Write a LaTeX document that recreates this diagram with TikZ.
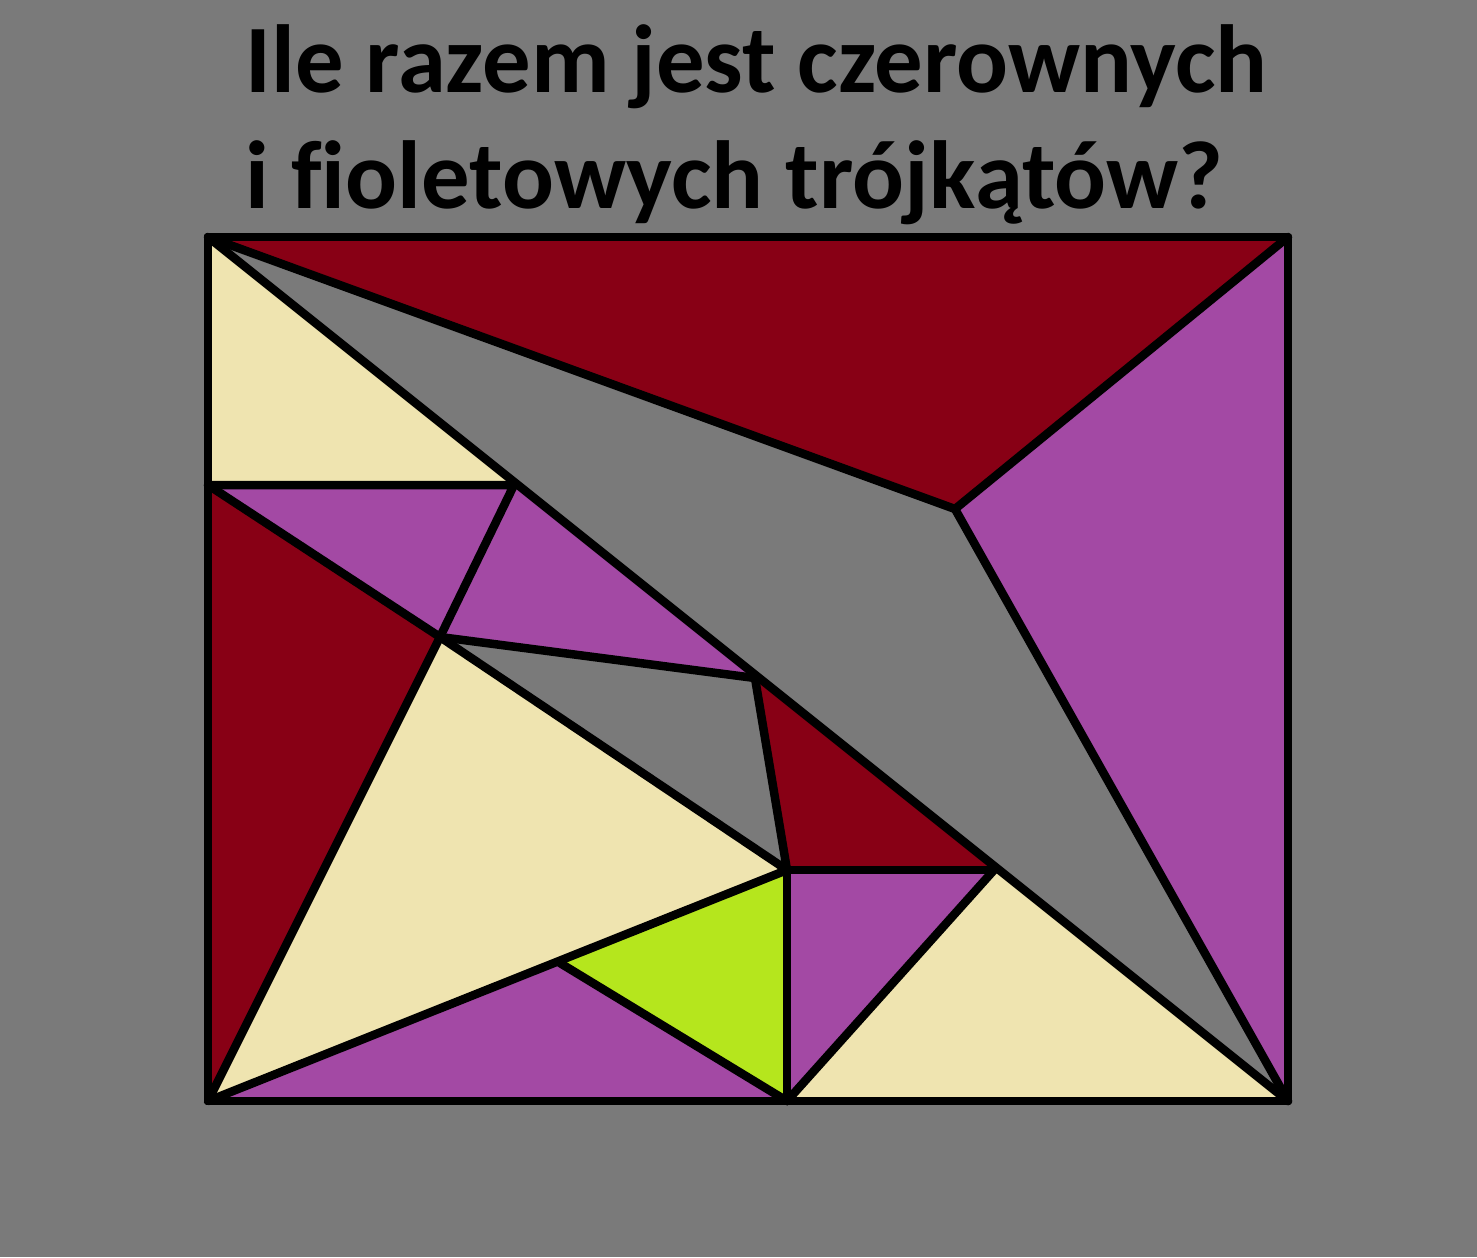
\documentclass[tikz,border=0pt]{standalone}
\usepackage{fontspec}
\setmainfont[Ligatures=NoCommon]{Carlito}
\definecolor{bggray}{HTML}{7A7A7A}
\definecolor{dred}{HTML}{880015}
\definecolor{purp}{HTML}{A349A4}
\definecolor{cream}{HTML}{EFE4B0}
\definecolor{lime}{HTML}{B5E61D}
\begin{document}
\begin{tikzpicture}[x=0.01cm,y=-0.01cm,
  edge/.style={draw=black,line width=0.085cm,line join=round,line cap=round},
  title/.style={anchor=base west,inner sep=0pt,font=\fontsize{27.5pt}{33pt}\selectfont\bfseries}]
\fill[bggray] (0,0) rectangle (1477,1257);
\useasboundingbox (0,0) rectangle (1477,1257);
% points
\coordinate (A) at (208,237);
\coordinate (B) at (1288,237);
\coordinate (C) at (1288,1101);
\coordinate (D) at (208,1101);
\coordinate (E) at (955,509);
\coordinate (F) at (208,485);
\coordinate (G) at (514,485);
\coordinate (H) at (440,637);
\coordinate (I) at (755,678);
\coordinate (J) at (787,870);
\coordinate (K) at (994,870);
\coordinate (L) at (787,1101);
\coordinate (M) at (560,963);
% fills
\fill[dred] (A) -- (B) -- (E) -- cycle;
\fill[purp] (B) -- (C) -- (E) -- cycle;
\fill[cream] (A) -- (G) -- (F) -- cycle;
\fill[purp] (F) -- (G) -- (H) -- cycle;
\fill[purp] (G) -- (I) -- (H) -- cycle;
\fill[dred] (I) -- (K) -- (J) -- cycle;
\fill[dred] (F) -- (H) -- (D) -- cycle;
\fill[cream] (H) -- (J) -- (D) -- cycle;
\fill[lime] (M) -- (J) -- (L) -- cycle;
\fill[purp] (D) -- (M) -- (L) -- cycle;
\fill[purp] (J) -- (K) -- (L) -- cycle;
\fill[cream] (K) -- (C) -- (L) -- cycle;
% lines
\draw[edge] (A) -- (B) -- (C) -- (D) -- cycle;
\draw[edge] (A) -- (C);
\draw[edge] (A) -- (E) -- (C);
\draw[edge] (B) -- (E);
\draw[edge] (F) -- (G) -- (H);
\draw[edge] (F) -- (H) -- (I) -- (J);
\draw[edge] (H) -- (D);
\draw[edge] (H) -- (J);
\draw[edge] (J) -- (K);
\draw[edge] (K) -- (L);
\draw[edge] (J) -- (L);
\draw[edge] (D) -- (J);
\draw[edge] (M) -- (L);
% title
\node[title] (t1) at (245,92) {Ile razem jest czerownych};
\node[title] (t2) at (245,208) {i fioletowych trójkątów?};
\end{tikzpicture}
\end{document}
